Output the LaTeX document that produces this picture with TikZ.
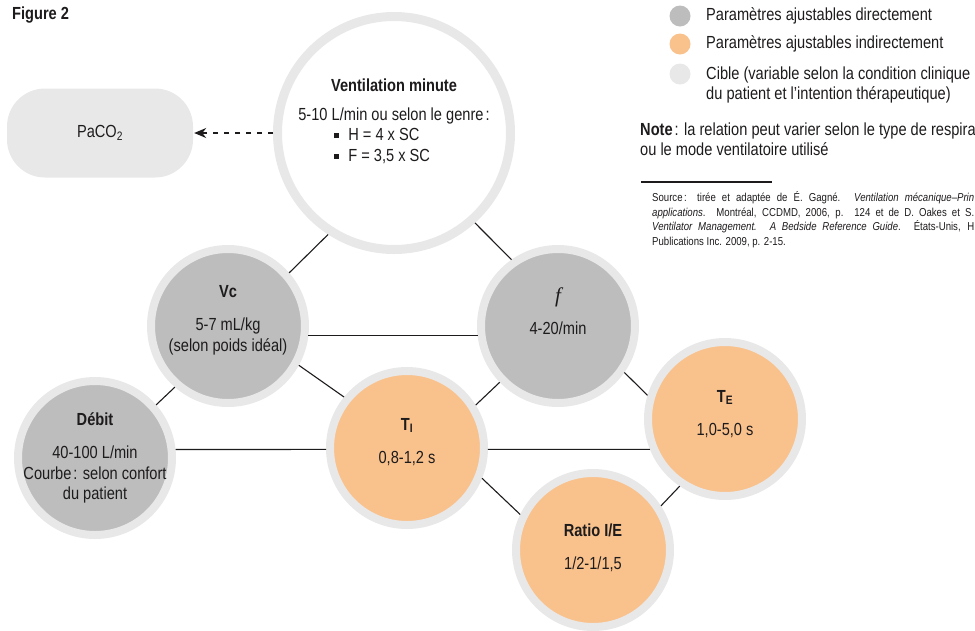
\documentclass[tikz,border=0pt]{standalone}
\usepackage{fontspec}
\setmainfont[FakeStretch=0.835]{Liberation Sans}
\newfontfamily\ffont{Liberation Serif}
\definecolor{pgray}{RGB}{189,189,189}
\definecolor{porange}{RGB}{249,194,141}
\definecolor{ring}{RGB}{232,232,232}
\definecolor{ink}{RGB}{30,27,28}
\usetikzlibrary{positioning, arrows.meta}
\newcommand{\bodyfont}{\fontsize{17.5}{20.5}\selectfont}
\newcommand{\srcfont}{\fontsize{11.5}{14.5}\selectfont}
\newcommand{\sqb}{\rule[2.5pt]{5pt}{5pt}}
\tikzset{
  direct/.style={circle, fill=pgray, draw=ring, line width=8pt,
    minimum size=154pt, inner sep=0pt},
  indirect/.style={circle, fill=porange, draw=ring, line width=8pt,
    minimum size=154pt, inner sep=0pt},
  target/.style={circle, fill=white, draw=ring, line width=9pt,
    minimum size=233pt, inner sep=0pt},
  goalbox/.style={rectangle, rounded corners=38pt, fill=ring,
    minimum width=186pt, minimum height=89pt, inner sep=0pt},
  txt/.style={align=center, text=ink, font=\bodyfont, inner sep=0pt},
  legdot/.style={circle, minimum size=21pt, inner sep=0pt},
  legtxt/.style={align=left, text=ink, font=\bodyfont, inner sep=0pt},
  link/.style={draw=ink, line width=1.1pt},
  dashlink/.style={-{Stealth[length=12pt, width=10pt]}, draw=ink,
    line width=1.1pt, dash pattern=on 5pt off 6pt, shorten >=1pt},
}
\begin{document}
\begin{tikzpicture}[x=1pt, y=1pt, on grid]
  \clip (0,0) rectangle (975,-630);
  \node[txt, anchor=west] (fig) at (12,-15) {\textbf{Figure 2}};

  % circles
  \node[target] (vm) at (394,-133) {};
  \node[goalbox, left=294pt of vm] (paco2) {};
  \node[direct, below left=193pt and 166pt of vm] (vc) {};
  \node[direct, below right=193pt and 164pt of vm] (f) {};
  \node[direct, below left=132pt and 133pt of vc] (debit) {};
  \node[indirect, below right=122pt and 179pt of vc] (ti) {};
  \node[indirect, below right=93pt and 167pt of f] (te) {};
  \node[indirect, below right=102pt and 186pt of ti] (ratio) {};

  % texts
  \node[txt] (vm-text) at ([yshift=10pt]vm.center)
    {\textbf{Ventilation minute}\\[13pt]
     \begin{tabular}{@{}l@{}}
       5-10 L/min ou selon le genre\hspace{2pt}:\\
       \hspace{36pt}\sqb\hspace{9pt}H = 4 x SC\\
       \hspace{36pt}\sqb\hspace{9pt}F = 3,5 x SC
     \end{tabular}};
  \node[txt] (paco2-text) at (paco2) {PaCO\textsubscript{2}};
  \node[txt] (vc-text) at ([yshift=6pt]vc.center)
    {\textbf{Vc}\\[13pt]5-7 mL/kg\\(selon poids idéal)};
  \node[txt] (f-text) at ([yshift=15pt]f.center)
    {{\ffont\itshape\fontsize{21}{21}\selectfont f}\\[11pt]4-20/min};
  \node[txt] (debit-text) at (debit)
    {\textbf{Débit}\\[13pt]40-100 L/min\\Courbe\hspace{2pt}: selon confort\\du patient};
  \node[txt] (ti-text) at ([yshift=6pt]ti.center)
    {\textbf{T\textsubscript{I}}\\[13pt]0,8-1,2 s};
  \node[txt] (te-text) at ([yshift=5pt]te.center)
    {\textbf{T\textsubscript{E}}\\[13pt]1,0-5,0 s};
  \node[txt] (ratio-text) at ([yshift=2pt]ratio.center)
    {\textbf{Ratio I/E}\\[13pt]1/2-1/1,5};

  % connectors
  \draw[dashlink] (vm) -- (paco2);
  \draw[link] (vm.237) -- (vc.41);
  \draw[link] (vm.312) -- (f.125);
  \draw[link] (vc.353) -- (f.187);
  \draw[link] (vc.229) -- (debit.41);
  \draw[link] (vc.331) -- (ti.141);
  \draw[link] (debit.6) -- (ti.181);
  \draw[link] (ti.32) -- (f.224);
  \draw[link] (f.325) -- (te.163);
  \draw[link] (ti.359) -- (te.202);
  \draw[link] (ti.338) -- (ratio.154);
  \draw[link] (te.236) -- (ratio.33);

  % legend
  \node[legdot, fill=pgray] (leg1) at (680,-16) {};
  \node[legdot, fill=porange] (leg2) at (680,-44) {};
  \node[legdot, fill=ring] (leg3) at (680,-74) {};
  \node[legtxt, right=26pt of leg1, anchor=west] (leg1-text)
    {Paramètres ajustables directement};
  \node[legtxt, right=26pt of leg2, anchor=west] (leg2-text)
    {Paramètres ajustables indirectement};
  \node[legtxt, right=26pt of leg3, anchor=west, yshift=-11pt] (leg3-text)
    {Cible (variable selon la condition clinique\\du patient et l’intention thérapeutique)};
  \node[legtxt, anchor=west] (note) at (640,-139)
    {\textbf{Note}\hspace{2pt}: la relation peut varier selon le type de respira\\ou le mode ventilatoire utilisé};
  \draw[draw=ink, line width=1.1pt] (641,-182) -- (772,-182);
  \node[legtxt, font=\srcfont, anchor=west, text width=322pt, align=justify]
    (source) at (652,-219.5)
    {Source\hspace{1.5pt}: tirée et adaptée de É. Gagné. \textit{Ventilation mécanique–Prin}\linebreak
     \textit{applications}. Montréal, CCDMD, 2006, p. 124 et de D. Oakes et S.\linebreak
     \textit{Ventilator Management. A Bedside Reference Guide}. États-Unis, H\linebreak
     Publications Inc. 2009, p. 2-15.};
\end{tikzpicture}
\end{document}
